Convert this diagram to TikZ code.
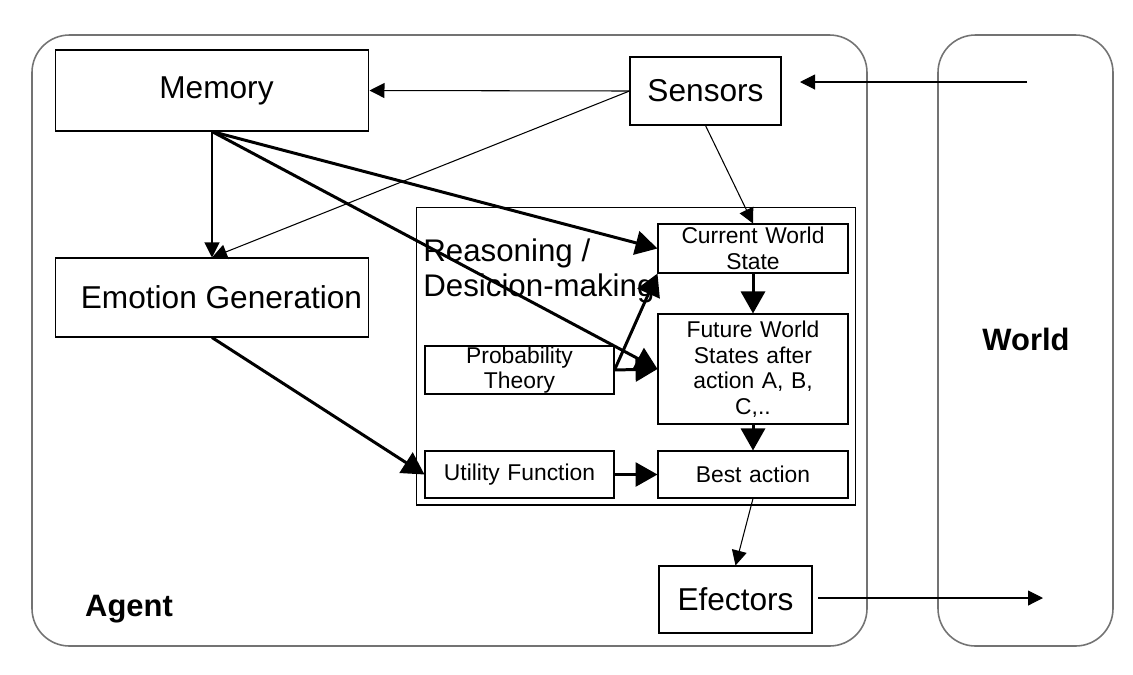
\documentclass[tikz,border=0pt]{standalone}
\usepackage{fontspec}
\setmainfont{Liberation Sans}
\usetikzlibrary{arrows.meta,positioning}

\begin{document}
\begin{tikzpicture}[x=0.02cm,y=-0.02cm,
    box/.style={draw,line width=0.6pt,inner sep=0pt,align=center},
    big/.style={box,font=\fontsize{18}{21}\selectfont},
    small/.style={box,font=\fontsize{13}{14.5}\selectfont,text width=3.7cm},
    thin/.style={line width=0.6pt,-{Triangle[length=0.3cm,width=0.3cm]}},
    thick/.style={line width=1.7pt,-{Triangle[length=0.44cm,width=0.48cm]}},
    frame/.style={draw=gray!90!black,line width=0.9pt,rounded corners=0.75cm}]
   \useasboundingbox (0,0) rectangle (1133,674);

   % agent and world
   \draw[frame] (32,35) rectangle (867,646);
   \draw[frame] (938,35) rectangle (1113,646);
   \node[font=\bfseries\fontsize{17.6}{20}\selectfont] (agent) at (129,609) {Agent};
   \node[font=\bfseries\fontsize{17.6}{20}\selectfont] (world) at (1026,339) {World};

   \node[big,minimum width=6.28cm,minimum height=1.62cm] (mem) at (212,90.5) {\hspace{0.18cm}\raisebox{-0.06cm}{Memory}};
   \node[big,minimum width=6.28cm,minimum height=1.58cm] (emo) at (212,297.5) {\hspace{0.38cm}Emotion Generation};
   \node[big,minimum width=3.02cm,minimum height=1.36cm] (sen) at (705.5,91) {Sensors};
   \node[big,minimum width=3.06cm,minimum height=1.34cm] (eff) at (735.5,599.5) {Efectors};

   % reasoning part
   \node[box,minimum width=8.8cm,minimum height=5.96cm] (reas) at (636,356) {};
   \node[anchor=north west,inner sep=0pt,align=left,
         font=\fontsize{17.8}{20.3}\selectfont] (reaslabel) at (423,238)
         {Reasoning /\\Desicion-making};
   \node[small,minimum width=3.8cm,minimum height=0.98cm] (cur) at (753,248.5) {Current World\\State};
   \node[small,minimum width=3.8cm,minimum height=2.2cm] (fut) at (753,369) {Future World\\States after\\action A, B,\\C,..};
   \node[small,minimum width=3.78cm,minimum height=0.96cm] (prob) at (519.5,370) {Probability\\Theory};
   \node[small,minimum width=3.78cm,minimum height=0.94cm] (util) at (519.5,474.5) {Utility Function};
   \node[small,minimum width=3.8cm,minimum height=0.94cm] (best) at (753,474.5) {Best action};

   \coordinate (win) at (1027,82);
   \coordinate (sin) at (800,82);
   \coordinate (eout) at (818,598);
   \coordinate (wout) at (1043,598);

   \draw[thin] (win) -- (sin);
   \draw[thin] (sen.west) -- (mem.east);
   \draw[thin] (sen.west) -- (emo.north);
   \draw[thin] (mem.south) -- (emo.north);
   \draw[thin] (sen.south) -- (cur.north);
   \draw[thick] (mem.south) -- (cur.west);
   \draw[thick] (mem.south) -- (fut.west);
   \draw[thick] (prob.east) -- (cur.south west);
   \draw[thick] (prob.east) -- (fut.west);
   \draw[thick] (cur.south) -- (fut.north);
   \draw[thick] (fut.south) -- (best.north);
   \draw[thick] (util.east) -- (best.west);
   \draw[thick] (emo.south) -- (util.west);
   \draw[thin] (best.south) -- (eff.north);
   \draw[thin] (eout) -- (wout);
 \end{tikzpicture}
\end{document}
